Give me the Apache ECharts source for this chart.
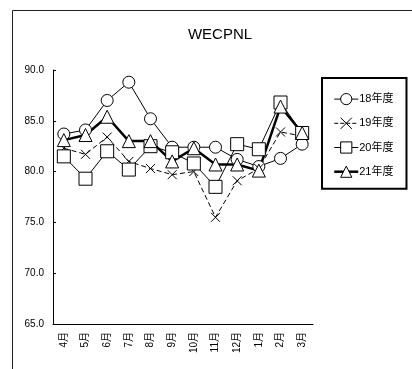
<!DOCTYPE html>
<html>
<head>
<meta charset="utf-8">
<script src="https://cdn.jsdelivr.net/npm/echarts@6/dist/echarts.min.js"></script>
<style>
  html, body { margin: 0; padding: 0; background: #fff; }
  #main { width: 412px; height: 369px; }
</style>
</head>
<body>
<div id="main"></div>
<script>
// WECPNL 月別推移
var months = ['4月', '5月', '6月', '7月', '8月', '9月', '10月', '11月', '12月', '1月', '2月', '3月'];
var names = ['18年度', '19年度', '20年度', '21年度'];
var y18 = [83.7, 84.1, 87.0, 88.8, 85.2, 82.4, 82.4, 82.4, 81.2, 80.5, 81.3, 82.7];
var y19 = [82.3, 81.7, 83.4, 81.0, 80.3, 79.7, 80.0, 75.5, 79.1, 80.3, 83.9, 83.5];
var y20 = [81.5, 79.3, 82.0, 80.2, 82.5, 81.9, 80.8, 78.5, 82.7, 82.2, 86.8, 83.8];
var y21 = [83.1, 83.6, 85.4, 83.0, 83.0, 81.0, 82.3, 80.7, 80.7, 80.1, 86.4, 83.8];

var font = 'Liberation Sans, Arial, Noto Sans CJK JP';
var cross = 'path://M0,0L10,10M10,0L0,10';

function mk(name, data, symbol, size, width, dash) {
    return {
        name: name,
        type: 'line',
        data: data,
        symbol: symbol,
        symbolSize: size,
        showAllSymbol: true,
        lineStyle: { color: '#000', width: width, type: dash },
        itemStyle: { color: '#fff', borderColor: '#000', borderWidth: 1 },
        emphasis: { disabled: true },
        animation: false
    };
}

function legItem(name, width, dash) {
    return {
        name: name,
        itemStyle: { color: '#fff', borderColor: '#000', borderWidth: 1 },
        lineStyle: { color: '#000', width: width, type: dash }
    };
}

var chart = echarts.init(document.getElementById('main'));
chart.setOption({
    backgroundColor: '#fff',
    graphic: [{
        type: 'rect',
        shape: { x: 12.5, y: 10.5, width: 520, height: 520 },
        style: { fill: 'none', stroke: '#222', lineWidth: 1 },
        silent: true
    }],
    title: {
        text: 'WECPNL',
        left: 215,
        top: 22,
        textAlign: 'center',
        textStyle: { fontFamily: font, fontSize: 15, fontWeight: 'normal', color: '#000' }
    },
    legend: {
        orient: 'vertical',
        left: 322,
        top: 78,
        padding: [15, 13, 11, 11],
        itemWidth: 24,
        itemHeight: 14,
        itemGap: 12,
        borderColor: '#000',
        borderWidth: 2,
        backgroundColor: '#fff',
        textStyle: { fontFamily: font, fontSize: 11, color: '#000', padding: [0, 0, 0, -4] },
        data: [
            legItem(names[0], 1, 'solid'),
            legItem(names[1], 1, [4, 2]),
            legItem(names[2], 1, 'solid'),
            legItem(names[3], 2.5, 'solid')
        ]
    },
    grid: { left: 53, right: 99, top: 70, bottom: 45, containLabel: false },
    xAxis: {
        type: 'category',
        data: months,
        boundaryGap: true,
        axisLine: { lineStyle: { color: '#000', width: 1 } },
        axisTick: { inside: true, length: 3, lineStyle: { color: '#000' } },
        axisLabel: { rotate: 90, interval: 0, margin: 8, fontFamily: font, fontSize: 10, color: '#000' }
    },
    yAxis: {
        type: 'value',
        min: 65,
        max: 90,
        interval: 5,
        axisLine: { show: true, lineStyle: { color: '#000', width: 1 } },
        axisTick: { show: true, inside: true, length: 3, lineStyle: { color: '#000' } },
        splitLine: { show: false },
        axisLabel: {
            fontFamily: font, fontSize: 10, color: '#000', margin: 9,
            formatter: function (v) { return v.toFixed(1); }
        }
    },
    series: [
        mk(names[0], y18, 'circle', 12, 1, 'solid'),
        mk(names[1], y19, cross, 9, 1, [5, 3]),
        mk(names[2], y20, 'rect', 13, 1, 'solid'),
        mk(names[3], y21, 'triangle', 13, 2.5, 'solid')
    ]
});
</script>
</body>
</html>
